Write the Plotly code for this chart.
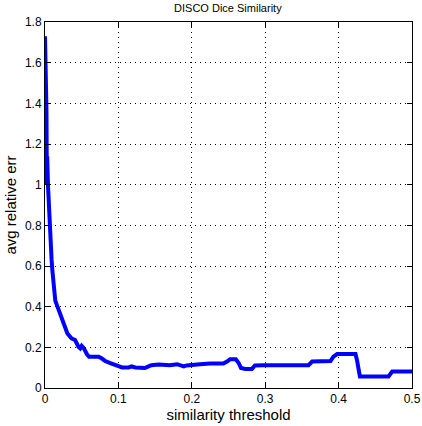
import plotly.graph_objects as go

threshold = [0.000, 0.001, 0.002, 0.0025, 0.003, 0.004, 0.005, 0.006, 0.007, 0.008,
             0.009, 0.010, 0.011, 0.012, 0.013, 0.014, 0.017, 0.0205, 0.025, 0.0305,
             0.036, 0.041, 0.0455, 0.048, 0.050, 0.053, 0.057, 0.060, 0.066, 0.073,
             0.077, 0.082, 0.089, 0.095, 0.100, 0.105, 0.114, 0.118, 0.123, 0.132,
             0.136, 0.141, 0.145, 0.155, 0.161, 0.170, 0.180, 0.184, 0.189, 0.193,
             0.202, 0.211, 0.225, 0.243, 0.248, 0.252, 0.260, 0.264, 0.267, 0.273,
             0.282, 0.286, 0.298, 0.330, 0.359, 0.364, 0.389, 0.393, 0.398, 0.423,
             0.425, 0.429, 0.448, 0.468, 0.473, 0.500]
avg_err = [1.73, 1.58, 1.36, 1.00, 1.14, 1.00, 0.90, 0.82, 0.75, 0.68,
           0.63, 0.58, 0.54, 0.50, 0.46, 0.43, 0.40, 0.366, 0.317, 0.268,
           0.244, 0.236, 0.203, 0.195, 0.207, 0.195, 0.167, 0.154, 0.154, 0.154,
           0.146, 0.133, 0.122, 0.114, 0.106, 0.101, 0.101, 0.106, 0.101, 0.098,
           0.098, 0.106, 0.112, 0.115, 0.112, 0.112, 0.117, 0.114, 0.106, 0.111,
           0.112, 0.117, 0.120, 0.120, 0.130, 0.141, 0.141, 0.122, 0.098, 0.094,
           0.094, 0.111, 0.112, 0.112, 0.112, 0.130, 0.133, 0.154, 0.167, 0.167,
           0.138, 0.057, 0.057, 0.057, 0.081, 0.081]

x_ticks = [0, 0.1, 0.2, 0.3, 0.4, 0.5]
x_labels = ["0", "0.1", "0.2", "0.3", "0.4", "0.5"]
y_ticks = [0, 0.2, 0.4, 0.6, 0.8, 1.0, 1.2, 1.4, 1.6, 1.8]
y_labels = ["0", "0.2", "0.4", "0.6", "0.8", "1", "1.2", "1.4", "1.6", "1.8"]

FONT = "Liberation Sans, Arial, sans-serif"

fig = go.Figure()
fig.add_trace(go.Scatter(x=threshold, y=avg_err, mode="lines",
                         line=dict(color="#0000FF", width=4), showlegend=False,
                         hoverinfo="skip"))

axis_common = dict(
    showline=True, linecolor="black", linewidth=1, mirror="allticks",
    ticks="inside", ticklen=5, tickcolor="black",
    showgrid=True, gridcolor="black", gridwidth=1, griddash="1px,4px",
    zeroline=False, automargin=False,
    tickfont=dict(family=FONT, size=12, color="black"),
)

fig.update_xaxes(range=[0, 0.5], tickvals=x_ticks, ticktext=x_labels,
                 title=dict(text="similarity threshold", standoff=2,
                            font=dict(family=FONT, size=15, color="black")),
                 **axis_common)
fig.update_yaxes(range=[0, 1.8], tickvals=y_ticks, ticktext=y_labels,
                 title=dict(text="avg relative err", standoff=4,
                            font=dict(family=FONT, size=15, color="black")),
                 **axis_common)

fig.update_layout(
    width=422, height=426,
    margin=dict(l=45, r=10, t=22, b=38),
    paper_bgcolor="white", plot_bgcolor="white",
    title=dict(text="DISCO Dice Similarity", x=0.54, xanchor="center", y=0.982, yanchor="middle",
               font=dict(family=FONT, size=11, color="black")),
)

fig.write_html("out.html", config={"displayModeBar": False},
               post_script="document.body.style.margin='0';document.body.style.overflow='hidden';")
